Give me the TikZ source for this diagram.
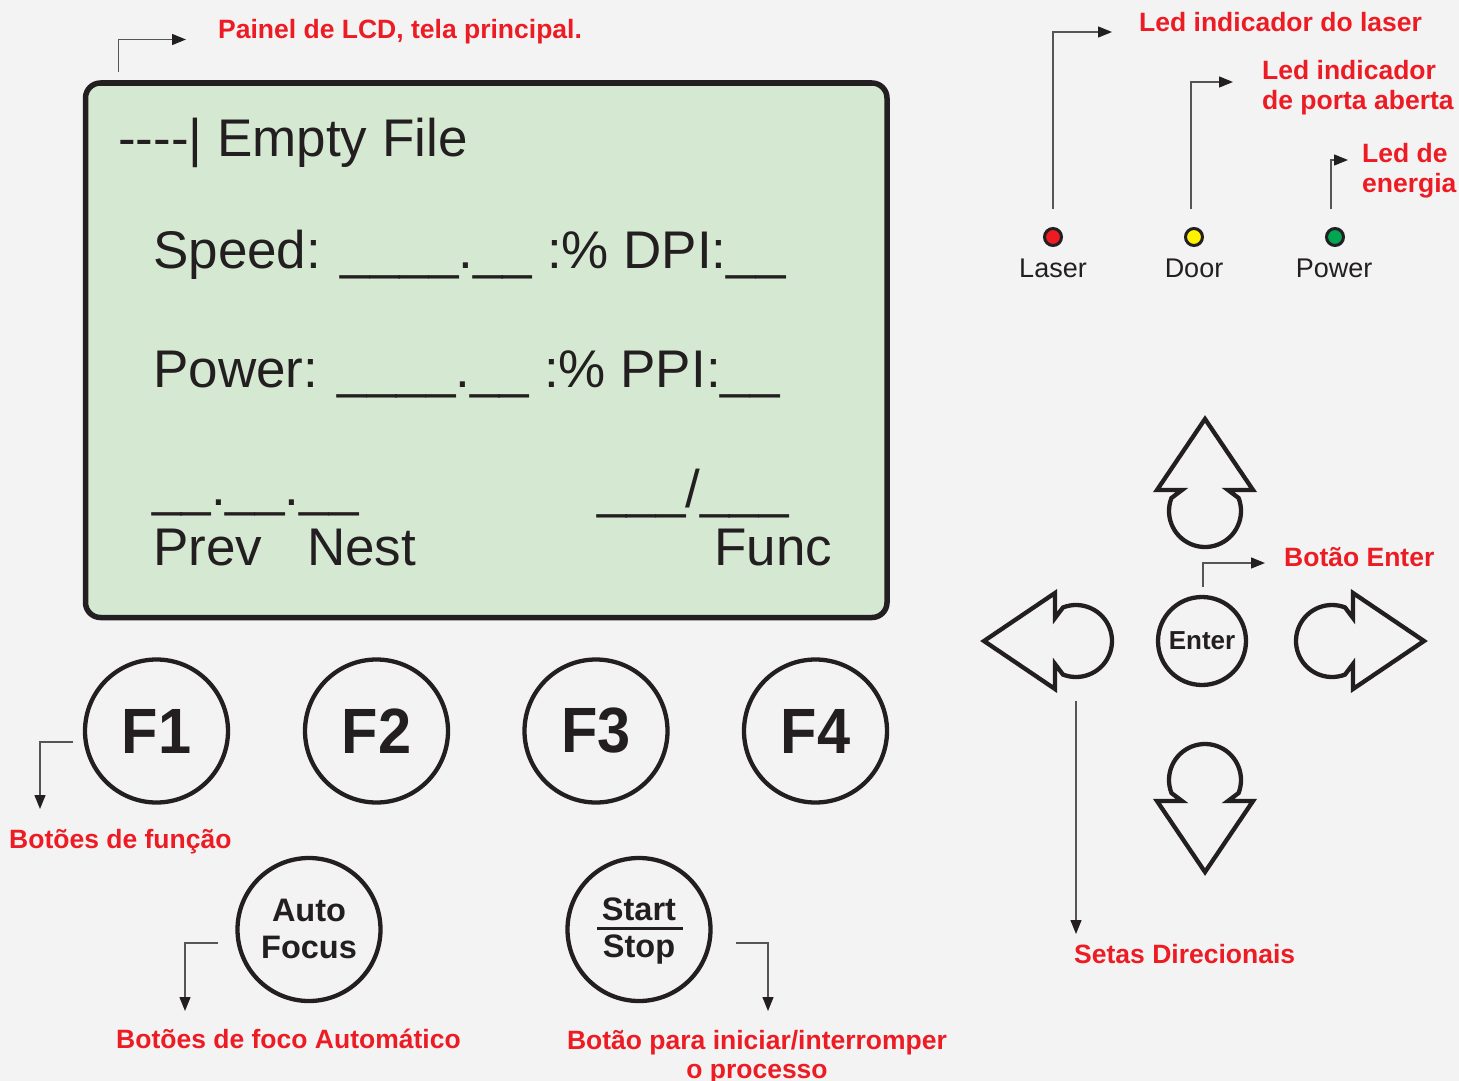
\documentclass[tikz,border=0pt]{standalone}
\usepackage{fontspec}
\setmainfont{Liberation Sans}
\newfontfamily\fkeyfont[FakeStretch=0.93]{Liberation Sans}
\usetikzlibrary{arrows.meta}
\definecolor{bg}{HTML}{F3F3F3}
\definecolor{lcdgreen}{HTML}{D5E9D2}
\definecolor{lblred}{HTML}{ED1C24}
\definecolor{ink}{HTML}{231F20}
\definecolor{leadgray}{HTML}{555555}
\definecolor{ledred}{HTML}{ED1C24}
\definecolor{ledyellow}{HTML}{FFF200}
\definecolor{ledgreen}{HTML}{00A651}
\tikzset{
  dirarrow/.pic={
    \draw[arrowline] (0,-92) -- (48,-21) -- (23,-21) -- (-21.2:36)
      arc[start angle=-21.2, end angle=201.2, radius=36] -- (-23,-21) -- (-48,-21) -- cycle;
  }
}
\begin{document}
\begin{tikzpicture}[x=1pt,y=-1pt,
  lbl/.style={text=lblred, font=\fontsize{26.5}{30}\selectfont\bfseries, inner sep=0pt, anchor=base west},
  lcdtxt/.style={text=ink, font=\fontsize{53}{60}\selectfont, inner sep=0pt, anchor=base west},
  fbtn/.style={circle, draw=ink, line width=4.3pt, minimum size=143pt, inner sep=0pt, text=ink, font=\fkeyfont\fontsize{64}{64}\selectfont\bfseries},
  rbtn/.style={circle, draw=ink, line width=4.3pt, minimum size=143pt, inner sep=0pt, text=ink, font=\fontsize{32.5}{37}\selectfont\bfseries},
  entbtn/.style={circle, draw=ink, line width=4.3pt, minimum size=88pt, inner sep=0pt, text=ink, font=\fontsize{26}{30}\selectfont\bfseries},
  led/.style={circle, draw=ink, line width=3pt, minimum size=17pt, inner sep=0pt},
  ledlbl/.style={text=ink, font=\fontsize{27}{30}\selectfont, inner sep=0pt, anchor=base},
  leader/.style={draw=leadgray, line width=1.3pt, -{Triangle[length=14pt,width=11pt,color=ink]}},
  arrowline/.style={draw=ink, line width=4.3pt, line join=miter}
]
\fill[bg] (0,0) rectangle (1459,1081);
\useasboundingbox (0,0) rectangle (1459,1081);

% LCD panel
\draw[draw=ink, fill=lcdgreen, line width=5.5pt, rounded corners=15pt] (85.5,83) rectangle (887,617.5);
\node[lcdtxt] (l1) at (118,156) {{-}{-}{-}{-}| Empty File};
\node[lcdtxt] (l2) at (153,268) {Speed: \_\_\_\_.\_\_ :\% DPI:\_\_};
\node[lcdtxt] (l3) at (153,387) {Power: \_\_\_\_.\_\_ :\% PPI:\_\_};
\node[lcdtxt] (l4) at (152,505) {\_\_.\_\_.\_\_};
\node[lcdtxt] (l5) at (597,507) {\_\_\_/\_\_\_};
\node[lcdtxt] (l6) at (153,565) {Prev\hspace{45pt}Nest};
\node[lcdtxt] (l7) at (714,565) {Func};

% function buttons
\node[fbtn] (f1) at (156.5,731) {F1};
\node[fbtn] (f2) at (376.5,731) {F2};
\node[fbtn] (f3) at (596,731) {F3};
\node[fbtn] (f4) at (815.5,731) {F4};

% auto focus, start/stop
\node[rbtn] (af) at (309,929.5) {\begin{tabular}{@{}c@{}}\rule{0pt}{32pt}Auto\\Focus\end{tabular}};
\node[rbtn] (ss) at (639,929.5) {\begin{tabular}{@{}c@{}}\rule{0pt}{30pt}Start\\Stop\end{tabular}};
\draw[ink, line width=3pt] (597,928.5) -- (683,928.5);

% LEDs
\node[led, fill=ledred] (ledL) at (1053,237) {};
\node[led, fill=ledyellow] (ledD) at (1194,237) {};
\node[led, fill=ledgreen] (ledP) at (1335,237) {};
\node[ledlbl] (tL) at (1053,277) {Laser};
\node[ledlbl] (tD) at (1194,277) {Door};
\node[ledlbl] (tP) at (1334,277) {Power};

% directional pad
\pic at (1205,511) {dirarrow};
\pic[rotate=180] at (1205,780) {dirarrow};
\pic[rotate=90] at (1076,641) {dirarrow};
\pic[rotate=-90] at (1332,641) {dirarrow};
\node[entbtn] (ent) at (1202,641) {Enter};

% labels
\node[lbl] (tLCD) at (218,39) {Painel de LCD, tela principal.};
\node[lbl] (tLaser) at (1139,32) {Led indicador do laser};
\node[lbl] (tDoor) at (1262,80) {\begin{tabular}[t]{@{}l@{}}Led indicador\\de porta aberta\end{tabular}};
\node[lbl] (tPow) at (1362,162) {\begin{tabular}[t]{@{}l@{}}Led de\\energia\end{tabular}};
\node[lbl] (tEnter) at (1284,566) {Botão Enter};
\node[lbl] (tFunc) at (9,848) {Botões de função};
\node[lbl] (tAF) at (116,1048) {Botões de foco Automático};
\node[lbl, anchor=base] (tSS) at (757,1049) {\fontsize{26.5}{29}\selectfont\begin{tabular}[t]{@{}c@{}}Botão para iniciar/interromper\\o processo\end{tabular}};
\node[lbl] (tSetas) at (1074,963) {Setas Direcionais};

% leader coordinates
\coordinate (cLCDa) at (118.5,72);   \coordinate (cLCDb) at (186,39.5);
\coordinate (cLasa) at (1053,209);   \coordinate (cLasb) at (1112,32);
\coordinate (cDoora) at (1191,209);  \coordinate (cDoorb) at (1233,82);
\coordinate (cPowa) at (1331,209);   \coordinate (cPowb) at (1348,160);
\coordinate (cEnta) at (1203,587);   \coordinate (cEntb) at (1265,563);
\coordinate (cF1a) at (73,742);      \coordinate (cF1b) at (40,809);
\coordinate (cAFa) at (218,943);     \coordinate (cAFb) at (185,1011);
\coordinate (cSSa) at (736,943);     \coordinate (cSSb) at (768,1011);
\coordinate (cSeta) at (1076,701);   \coordinate (cSetb) at (1076,934);

\draw[leader] (cLCDa) |- (cLCDb);
\draw[leader] (cLasa) |- (cLasb);
\draw[leader] (cDoora) |- (cDoorb);
\draw[leader] (cPowa) |- (cPowb);
\draw[leader] (cEnta) |- (cEntb);
\draw[leader] (cF1a) -| (cF1b);
\draw[leader] (cAFa) -| (cAFb);
\draw[leader] (cSSa) -| (cSSb);
\draw[leader] (cSeta) -- (cSetb);
\end{tikzpicture}
\end{document}
